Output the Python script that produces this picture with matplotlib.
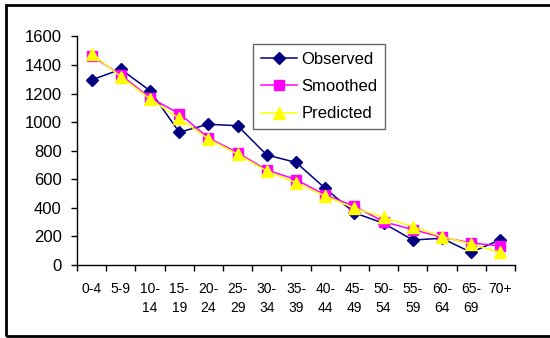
import matplotlib
matplotlib.use('Agg')
import matplotlib.pyplot as plt
from matplotlib.patches import Rectangle
import numpy as np

# Grupos etários e séries
age_groups = ['0-4', '5-9', '10-\n14', '15-\n19', '20-\n24', '25-\n29', '30-\n34', '35-\n39',
              '40-\n44', '45-\n49', '50-\n54', '55-\n59', '60-\n64', '65-\n69', '70+']
observed = [1295, 1370, 1220, 930, 985, 975, 770, 718, 537, 365, 292, 175, 187, 88, 178]
smoothed = [1465, 1330, 1171, 1060, 890, 786, 665, 598, 490, 412, 303, 248, 194, 155, 133]
predicted = [1480, 1318, 1162, 1026, 882, 776, 658, 576, 483, 398, 334, 268, 198, 147, 88]

plt.rcParams['font.family'] = ['Liberation Sans', 'DejaVu Sans']

fig = plt.figure(figsize=(5.5, 3.38), dpi=100)
ax = fig.add_axes([77 / 550, 73 / 338, 438 / 550, 228.6 / 338])

x = np.arange(len(age_groups))
ax.plot(x, observed, color='#000080', marker='D', markersize=6, linewidth=1.1, label='Observed', zorder=3)
ax.plot(x, smoothed, color='#FF00FF', marker='s', markersize=7, linewidth=1.1, label='Smoothed', zorder=4)
ax.plot(x, predicted, color='#FFFF00', marker='^', markersize=8, linewidth=1.1, label='Predicted', zorder=5)

ax.set_xlim(-0.5, len(age_groups) - 0.5)
ax.set_ylim(0, 1600)
ax.set_yticks(range(0, 1601, 200))
ax.tick_params(axis='y', labelsize=12, length=4, width=1, pad=7)

ax.set_xticks(x)
ax.set_xticklabels(age_groups, fontsize=10, linespacing=1.45)
ax.set_xticks(np.arange(-0.5, len(age_groups), 1), minor=True)
ax.tick_params(axis='x', which='major', length=0, pad=12)
ax.tick_params(axis='x', which='minor', length=4, width=1)

for side in ['top', 'right']:
    ax.spines[side].set_visible(False)
for side in ['left', 'bottom']:
    ax.spines[side].set_linewidth(1)

leg = ax.legend(loc='upper left', bbox_to_anchor=((253 - 77) / 438, (265 - 44) / 228.6),
                fontsize=12, frameon=True, fancybox=False, edgecolor='#404040',
                handlelength=2.2, handletextpad=0.25, borderpad=0.45, labelspacing=0.75,
                borderaxespad=0)
leg.get_frame().set_linewidth(1)

# Moldura externa (sem borda direita visível)
fig.patches.append(Rectangle((6 / 550, 2 / 338), 560 / 550, 331 / 338, transform=fig.transFigure,
                             fill=False, edgecolor='black', linewidth=2))

fig.savefig('out.png', dpi=100)
